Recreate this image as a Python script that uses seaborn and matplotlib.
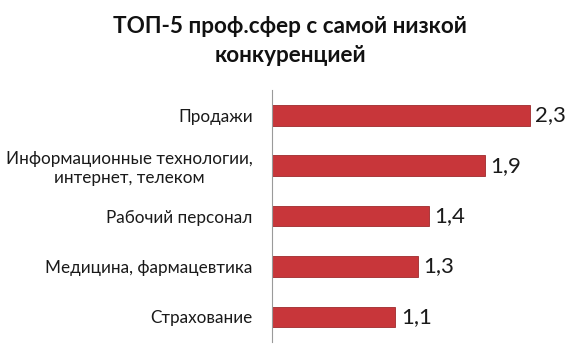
import matplotlib
matplotlib.use("Agg")
import matplotlib.pyplot as plt
import seaborn as sns
import pandas as pd

categories = ["Продажи", "Информационные технологии,\nинтернет, телеком", "Рабочий персонал",
              "Медицина, фармацевтика", "Страхование"]
values = [2.3, 1.9, 1.4, 1.3, 1.1]
value_labels = ["2,3", "1,9", "1,4", "1,3", "1,1"]
title = "ТОП-5 проф.сфер с самой низкой\nконкуренцией"

sns.set_theme(style="white")
plt.rcParams['font.family'] = ['Lato', 'Open Sans', 'DejaVu Sans']

df = pd.DataFrame({"cat": categories, "val": values})

fig = plt.figure(figsize=(5.8, 3.56), dpi=100)
ax = fig.add_axes([0.469, 0.039, 0.483, 0.708])
sns.barplot(data=df, x="val", y="cat", ax=ax, color="#c8363a", width=0.41,
            edgecolor="#9e2a2c", linewidth=0.6, saturation=1)
ax.set_xlim(0, 2.5)
ax.set_xlabel("")
ax.set_ylabel("")
ax.set_xticks([])
for s in ["top", "right", "bottom"]:
    ax.spines[s].set_visible(False)
ax.spines["left"].set_color("#9a9a9a")
ax.spines["left"].set_linewidth(0.8)
ax.tick_params(axis="y", length=0, pad=14, labelsize=12.3, labelcolor="#1a1a1a")
for lbl in ax.get_yticklabels():
    lbl.set_multialignment("center")
for i, (v, t) in enumerate(zip(values, value_labels)):
    ax.text(v + 0.05, i, t, va="center", ha="left", fontsize=16, color="#1a1a1a")

fig.text(0.5, 0.955, title, ha="center", va="top", fontsize=16.2, fontweight="bold",
         color="#111111", linespacing=1.45)
fig.savefig("out.png", dpi=100)
